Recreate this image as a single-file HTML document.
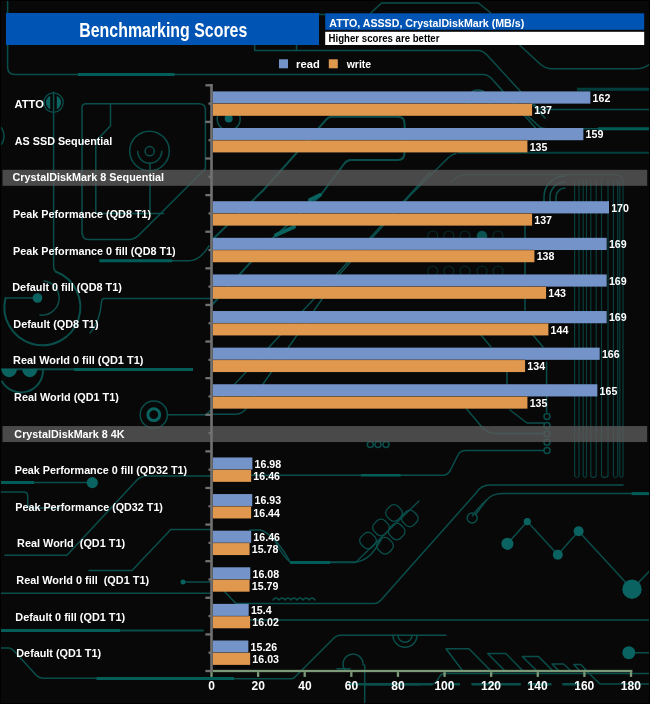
<!DOCTYPE html>
<html><head><meta charset="utf-8"><style>
html,body{margin:0;padding:0;background:#080808;width:650px;height:704px;overflow:hidden}
svg{display:block;will-change:transform}
text{font-family:"Liberation Sans",sans-serif;font-weight:bold;white-space:pre}
</style></head><body>
<svg width="650" height="704" viewBox="0 0 650 704">
<rect x="0" y="0" width="650" height="704" fill="#080808"/>
<g fill="none" stroke-linecap="round" stroke-linejoin="round">
<!-- thin lines -->
<g stroke="#0a4e4b" stroke-width="1.5">
<path d="M370.8 13 L381.5 3 H478.5 L490.8 13"/>
<path d="M319 14.5 H325"/>
<path d="M0 126.2 A14 14 0 0 1 0 145.8"/>
<circle cx="478" cy="101" r="11"/>
<path d="M7.6 0 V67 Q7.6 74.5 15 74.5 H78"/>
<path d="M174.5 74.5 H483 Q488 74.5 492 79 L540 133"/>
<path d="M254.6 45 V50.5 H478 Q483 50.5 487 55 L545 118"/>
<path d="M296.5 45 V50.5"/>
<path d="M519.6 45 L539 63 Q545 68.8 552 68.8 H636 Q643 68.8 650 64"/>
<path d="M534.6 104.6 Q538 109.5 545 109.5 H650"/>
<path d="M527.7 116 L538 125.4 Q541 128.7 547 128.7 H598"/>
<!-- ATTO ring vertical -->
<path d="M53.6 112 V266 Q53.6 270 56 271.8"/>
<!-- big circle arc -->
<path d="M56 271.8 A38 38 0 1 1 5.5 298" stroke-width="2"/>
<path d="M37.5 298 H5.5"/>
<!-- inner arc around dot -->
<path d="M44 281 A17 17 0 1 1 40 315"/>
<!-- curve right of big circle -->
<path d="M211 298.4 H104 Q101.7 298.4 101.5 302 Q100 322 90 333"/>
<!-- inner rounded rect region -->
<path d="M82 234 V108 Q82 103.8 86 103.8 H199 Q205.4 103.8 205.4 110 V168.7 L140 234 Q135 239.4 130 239.4 H88 Q82.6 239.4 82.6 234"/>
<path d="M110.5 103.8 V125.8 L95.8 141.3 V213.6 H163.7"/>
<path d="M150 163 V213.6"/>
<circle cx="149.5" cy="151" r="19.8"/>
<circle cx="149.7" cy="151.2" r="4.6"/>
<path d="M137.7 151.2 A12 12 0 0 0 161.7 151.2"/>
<path d="M172 260.8 H188.8 Q200 260.8 209 245.8"/>
<!-- left bottom -->
<path d="M0 369.2 H74" stroke-width="2"/>
<path d="M2 381.5 A22 22 0 0 0 43 370.5" stroke-width="2"/>
<path d="M0 492 H24 Q27.7 492 27.7 496 V505 Q27.7 508 31 508 H60"/>
<path d="M34 482.6 H92"/>
<path d="M5 555.2 H67 L137 480 Q141.5 476 146 476 H211"/>
<path d="M89 570.5 H132 L170.8 529.6 H211"/>
<path d="M0 593.3 H211"/>
<path d="M183 582 H211"/>
<path d="M120 630.4 H203" stroke-width="2"/>
<path d="M1 648.1 H9 Q12 648.5 15 652 L36 675 Q39 678.3 44 678.3 H97"/>
<!-- ring near axis left -->
<circle cx="153.8" cy="414.7" r="13.6"/>
<path d="M167.4 414.7 H211"/>
<!-- frame bottom of title -->
<!-- middle diagonals -->
<path d="M211 241 L263.5 190 L325 121 Q328 116.8 332 116.8 H398 Q404.6 116.8 404.6 124 V152 Q404.6 160 398 160 H350 Q346 160.8 344 164 L320 196 L274 237 L240 274 L211 306" stroke-width="2"/>
<path d="M430 172.6 L313.4 299.5 L207 414"/>
<path d="M456 153.5 Q452 154 448 158 L409.7 196 L338 276 L245.5 409.4 Q241 414.2 235 414.2 H213"/>
<circle cx="228.7" cy="119" r="11.5"/>
<!-- right side: vertical bus -->
<path d="M525 225 V310"/>
<path stroke="#083e3c" stroke-width="1.2" d="M574.6 182 V476 Q576.8 479 579 476 V180"/>
<path stroke="#083e3c" stroke-width="1.2" d="M583.2 180 V476 Q585 479 586.5 476 V180"/>
<path stroke="#083e3c" stroke-width="1.2" d="M590.8 180 V476 Q593.5 479 596.2 476 V180"/>
<path stroke="#083e3c" stroke-width="1.2" d="M601.5 180 V476 Q604.8 479 608 476 V180"/>
<path stroke="#083e3c" stroke-width="1.2" d="M613.4 180 V476 Q615.5 479 617.7 476 V180"/>
<path stroke="#083e3c" stroke-width="1.2" d="M619.8 180 V476 Q621.4 479 623 476 V182 Q623 174.6 615 174.6 H466 Q456 174.6 452 182"/>
<path d="M556 203 V197 A9 9 0 0 1 565 188"/>
<path d="M550 205 V197 A15 15 0 0 1 565 182"/>
<path d="M544 207 V197 A21 21 0 0 1 565 176"/>
<path d="M546.6 362 V412"/>
<circle cx="547" cy="416.5" r="3"/>
<circle cx="547" cy="425.5" r="3"/>
<circle cx="547" cy="433.7" r="3"/>
<circle cx="547" cy="442.3" r="3"/>
<circle cx="547" cy="450.5" r="3"/>
<path d="M466.5 408.8 L481 426 Q487 433.4 495 433.4 H544"/>
<path d="M507 372 V384"/>
<path d="M481 335 L491 347"/>
<path d="M533 335 L543 347"/>
<path d="M510 410 L527 423 H544"/>
<path d="M211 475.2 H443 Q447 475.2 450 471 L458 455 Q460 450.5 466 450.5 H544"/>
<!-- zigzag lines -->
<path d="M507.4 543.8 L527.3 521.6 L557.8 554.8 L578.6 531.3 L632 589.2 L650 570.6"/>
<circle cx="472.2" cy="518" r="5"/>
<path d="M476 514 L486.6 500"/>
<!-- bottom right -->
<path d="M213 620 H650"/>
<path d="M628.8 652.7 H650"/>
<path d="M446 648.8 H469 L490 670 M446 648.8 L462 670"/>
<path d="M487.7 653.5 H505.8 L522 670 M487.7 653.5 L504 670"/>
<path d="M522.3 656.5 H538.5 L552 670 M522.3 656.5 L536 670"/>
<path d="M552 664 H563.5 L570 670 M552 664 L558 670"/>
<path d="M573.8 664.6 H580.8 L586 670 M573.8 664.6 L579 670"/>
<path d="M584.6 669 L600 684 H650"/>
<path d="M349 684.3 H431.5 Q436 684 438 679 L440 676 Q441.5 673.5 445 673.5 H650" />
<path d="M349 684.3 H431.5" stroke-width="2.5"/>
<path d="M446 684.3 H460 M471.5 684.3 H520.8 M527.7 684.3 H551.5 M562.3 684.3 H580" stroke-width="2.5" stroke-linecap="butt"/>
<!-- middle bottom -->
<path d="M274.6 540 Q282 556 290.8 562.6 H355.4 Q368 560 374.8 549.7 L381 540"/>
<path d="M223 590 L236 603.4 H374.5 Q378 603.4 381 600 L476 493 Q481 485 490 485 H623"/>
<path d="M472.5 515.8 Q480 505 490 497 Q495 493.6 503 493.6 H631.7"/>
<path d="M273 600 q3 -4 6 0 q3 -4 6 0 q3 -4 6 0 q3 -4 6 0 q3 -4 6 0 q3 -4 6 0 q3 -4 6 0"/>
<path d="M213 678.7 H291.5 Q294 678.7 296 676 L332 640 Q336 635.3 341 635.3 H446"/>
<path d="M345 670 A10 10 0 1 1 363 665" />
<path d="M337 668.8 H350"/>
<path d="M393 635.3 A12 12 0 0 0 417 635.3"/>
<path d="M398 635.3 A7 7 0 0 0 412 635.3"/>
<path d="M364.7 665 V704"/>
<path d="M365 684.7 H420"/>
<path d="M250 530 H260.5 Q275 535 289 560"/>
<circle cx="370.3" cy="444.5" r="3"/>
<circle cx="378" cy="444.5" r="3"/>
<circle cx="386" cy="444.5" r="3"/>
</g>
<g stroke="#0a4e4b" stroke-width="1.3">
<path d="M330 562 H356 L419 501"/>
<rect x="360.5" y="533.1" width="15" height="15" rx="5.5" transform="rotate(45 368.0 540.6)"/>
<rect x="373.5" y="520.0" width="15" height="15" rx="5.5" transform="rotate(45 381.0 527.5)"/>
<rect x="386.5" y="505.5" width="15" height="15" rx="5.5" transform="rotate(45 394.0 513.0)"/>
<rect x="377.5" y="538.3" width="15" height="15" rx="5.5" transform="rotate(45 385.0 545.8)"/>
<rect x="389.2" y="524.0" width="15" height="15" rx="5.5" transform="rotate(45 396.7 531.5)"/>
<rect x="402.3" y="510.9" width="15" height="15" rx="5.5" transform="rotate(45 409.8 518.4)"/>
</g>
<g stroke="#072b2a" stroke-width="1.1">
<circle cx="432.7" cy="236.0" r="5"/>
<circle cx="448.8" cy="236.0" r="5"/>
<circle cx="465.0" cy="236.0" r="5"/>
<circle cx="482.0" cy="236.0" r="5"/>
<circle cx="498.0" cy="236.0" r="5"/>
<circle cx="432.7" cy="271.2" r="5"/>
<circle cx="448.8" cy="271.2" r="5"/>
<circle cx="465.0" cy="271.2" r="5"/>
<circle cx="482.0" cy="271.2" r="5"/>
<circle cx="498.0" cy="271.2" r="5"/>
</g>
<circle cx="482" cy="236" r="5" fill="#0a5552" stroke="none"/>
<g stroke="#0a6361" stroke-width="4" stroke-linecap="round">
<path d="M310 200 L320 195"/>
<path d="M276 235 L294 227"/>
</g>
<circle cx="228.7" cy="118.5" r="4" fill="#0a6361"/>
<!-- thick bright lines -->
<g stroke="#005d58" stroke-width="3" stroke-linecap="butt">
<path d="M78 74.5 H174.5"/>
<path d="M99.3 260.8 H172"/>
<path d="M74 369.6 H193"/>
<path d="M0 482.6 H34"/>
<path d="M0 630.4 H120"/>
<path d="M96.5 678.4 H234"/>
<path d="M598 128.7 H650"/>
<path d="M631.7 493.6 H650"/>
<path d="M290 562.6 H330"/>
<path d="M361 475.2 H400.6" stroke-width="2.6"/>
</g>
<g stroke="#003f3c" stroke-width="3" stroke-linecap="butt">
<path d="M577 89.2 H650"/>
<path d="M458 152.8 H650" stroke-width="2"/>
</g>
<!-- filled dots -->
<g fill="#0a6361" stroke="none">
<circle cx="53.5" cy="102.6" r="7.6"/>
<circle cx="37.5" cy="298" r="4.8"/>
<circle cx="92.3" cy="482.6" r="5.6"/>
<circle cx="507.4" cy="543.8" r="6.1"/>
<circle cx="527.3" cy="521.6" r="3.6"/>
<circle cx="557.8" cy="554.8" r="5"/>
<circle cx="578.6" cy="531.3" r="5"/>
<circle cx="632" cy="589.2" r="9.7"/>
<circle cx="628.8" cy="652.7" r="6.5"/>
<circle cx="183" cy="582" r="2.5"/>
<path d="M1.4 369 A7.8 8.2 0 0 0 17 369 Z M22.2 369 A7.6 8.2 0 0 0 37.4 369 Z"/>
</g>
<g fill="#080808" stroke="none">
<rect x="50.2" y="92" width="6.6" height="21"/>
</g>
<g fill="none" stroke="#0a4e4b" stroke-width="1.5">
<path d="M53.6 92 V113"/>
<circle cx="53.5" cy="102.6" r="9.7" stroke-width="1.3"/>
</g>
<g fill="none" stroke="#0a6361" stroke-width="3">
<circle cx="153.8" cy="414.7" r="5.9"/>
</g>
</g>

<rect x="6" y="13" width="313" height="32" fill="#0055b4"/>
<text transform="translate(79.26 37.40) scale(0.8125 1)" font-size="19.60" fill="#fff">Benchmarking Scores</text>
<rect x="325.2" y="13.3" width="319" height="16.5" fill="#0055b4"/>
<text transform="translate(329.23 26.90) scale(0.9187 1)" font-size="11.60" fill="#fff">ATTO, ASSSD, CrystalDiskMark (MB/s)</text>
<rect x="325.2" y="31.8" width="319" height="13.2" fill="#ffffff"/>
<text transform="translate(328.57 41.70) scale(0.8536 1)" font-size="11.30" fill="#000">Higher scores are better</text>
<rect x="279" y="59.3" width="9" height="9" fill="#7494c9"/>
<text transform="translate(296.07 67.70) scale(1.0193 1)" font-size="11.00" fill="#fff">read</text>
<rect x="328.8" y="59.3" width="9" height="9" fill="#e0984e"/>
<text transform="translate(346.65 67.70) scale(0.9544 1)" font-size="11.00" fill="#fff">write</text>
<text transform="translate(14.52 107.90) scale(1.0156 1)" font-size="11.00" fill="#fff">ATTO</text>
<rect x="212.80" y="91.40" width="377.56" height="12.20" fill="#7494c9"/>
<rect x="212.80" y="103.60" width="319.29" height="12.20" fill="#e0984e"/>
<rect x="212.80" y="103.25" width="319.29" height="0.7" fill="#000" fill-opacity="0.35"/>
<text transform="translate(592.57 101.77) scale(0.9500 1)" font-size="11.20" fill="#fff">162</text>
<text transform="translate(534.30 113.97) scale(0.9500 1)" font-size="11.20" fill="#fff">137</text>
<text transform="translate(14.83 144.50) scale(0.9801 1)" font-size="11.00" fill="#fff">AS SSD Sequential</text>
<rect x="212.80" y="128.01" width="370.57" height="12.20" fill="#7494c9"/>
<rect x="212.80" y="140.21" width="314.63" height="12.20" fill="#e0984e"/>
<rect x="212.80" y="139.86" width="314.63" height="0.7" fill="#000" fill-opacity="0.35"/>
<text transform="translate(585.57 138.38) scale(0.9500 1)" font-size="11.20" fill="#fff">159</text>
<text transform="translate(529.64 150.58) scale(0.9500 1)" font-size="11.20" fill="#fff">135</text>
<rect x="2.5" y="169.81" width="644.7" height="16" fill="#5a5a5a" fill-opacity="0.8"/>
<text transform="translate(12.47 180.90) scale(0.9847 1)" font-size="11.00" fill="#fff">CrystalDiskMark 8 Sequential</text>
<text transform="translate(13.10 218.30) scale(0.9830 1)" font-size="11.00" fill="#fff">Peak Peformance (QD8 T1)</text>
<rect x="212.80" y="201.22" width="396.20" height="12.20" fill="#7494c9"/>
<rect x="212.80" y="213.42" width="319.29" height="12.20" fill="#e0984e"/>
<rect x="212.80" y="213.07" width="319.29" height="0.7" fill="#000" fill-opacity="0.35"/>
<text transform="translate(611.21 211.59) scale(0.9500 1)" font-size="11.20" fill="#fff">170</text>
<text transform="translate(534.30 223.79) scale(0.9500 1)" font-size="11.20" fill="#fff">137</text>
<text transform="translate(13.10 254.50) scale(0.9830 1)" font-size="11.00" fill="#fff">Peak Peformance 0 fill (QD8 T1)</text>
<rect x="212.80" y="237.82" width="393.87" height="12.20" fill="#7494c9"/>
<rect x="212.80" y="250.03" width="321.62" height="12.20" fill="#e0984e"/>
<rect x="212.80" y="249.68" width="321.62" height="0.7" fill="#000" fill-opacity="0.35"/>
<text transform="translate(608.88 248.20) scale(0.9500 1)" font-size="11.20" fill="#fff">169</text>
<text transform="translate(536.63 260.40) scale(0.9500 1)" font-size="11.20" fill="#fff">138</text>
<text transform="translate(12.30 290.60) scale(0.9859 1)" font-size="11.00" fill="#fff">Default 0 fill (QD8 T1)</text>
<rect x="212.80" y="274.43" width="393.87" height="12.20" fill="#7494c9"/>
<rect x="212.80" y="286.63" width="333.28" height="12.20" fill="#e0984e"/>
<rect x="212.80" y="286.28" width="333.28" height="0.7" fill="#000" fill-opacity="0.35"/>
<text transform="translate(608.88 284.80) scale(0.9500 1)" font-size="11.20" fill="#fff">169</text>
<text transform="translate(548.28 297.00) scale(0.9500 1)" font-size="11.20" fill="#fff">143</text>
<text transform="translate(13.29 327.60) scale(0.9892 1)" font-size="11.00" fill="#fff">Default (QD8 T1)</text>
<rect x="212.80" y="311.04" width="393.87" height="12.20" fill="#7494c9"/>
<rect x="212.80" y="323.24" width="335.61" height="12.20" fill="#e0984e"/>
<rect x="212.80" y="322.89" width="335.61" height="0.7" fill="#000" fill-opacity="0.35"/>
<text transform="translate(608.88 321.41) scale(0.9500 1)" font-size="11.20" fill="#fff">169</text>
<text transform="translate(550.61 333.61) scale(0.9500 1)" font-size="11.20" fill="#fff">144</text>
<text transform="translate(13.09 364.30) scale(0.9941 1)" font-size="11.00" fill="#fff">Real World 0 fill (QD1 T1)</text>
<rect x="212.80" y="347.64" width="386.88" height="12.20" fill="#7494c9"/>
<rect x="212.80" y="359.85" width="312.30" height="12.20" fill="#e0984e"/>
<rect x="212.80" y="359.50" width="312.30" height="0.7" fill="#000" fill-opacity="0.35"/>
<text transform="translate(601.89 358.01) scale(0.9500 1)" font-size="11.20" fill="#fff">166</text>
<text transform="translate(527.31 370.22) scale(0.9500 1)" font-size="11.20" fill="#fff">134</text>
<text transform="translate(14.09 401.00) scale(0.9887 1)" font-size="11.00" fill="#fff">Real World (QD1 T1)</text>
<rect x="212.80" y="384.25" width="384.55" height="12.20" fill="#7494c9"/>
<rect x="212.80" y="396.45" width="314.63" height="12.20" fill="#e0984e"/>
<rect x="212.80" y="396.10" width="314.63" height="0.7" fill="#000" fill-opacity="0.35"/>
<text transform="translate(599.56 394.62) scale(0.9500 1)" font-size="11.20" fill="#fff">165</text>
<text transform="translate(529.64 406.82) scale(0.9500 1)" font-size="11.20" fill="#fff">135</text>
<rect x="2.5" y="426.06" width="644.7" height="16" fill="#5a5a5a" fill-opacity="0.8"/>
<text transform="translate(14.37 437.50) scale(0.9810 1)" font-size="11.00" fill="#fff">CrystalDiskMark 8 4K</text>
<text transform="translate(14.70 474.40) scale(0.9806 1)" font-size="11.00" fill="#fff">Peak Performance 0 fill (QD32 T1)</text>
<rect x="212.80" y="457.46" width="39.57" height="12.20" fill="#7494c9"/>
<rect x="212.80" y="469.66" width="38.36" height="12.20" fill="#e0984e"/>
<rect x="212.80" y="469.31" width="38.36" height="0.7" fill="#000" fill-opacity="0.35"/>
<text transform="translate(254.58 467.83) scale(0.9500 1)" font-size="11.20" fill="#fff">16.98</text>
<text transform="translate(253.37 480.03) scale(0.9500 1)" font-size="11.20" fill="#fff">16.46</text>
<text transform="translate(15.30 511.20) scale(0.9782 1)" font-size="11.00" fill="#fff">Peak Performance (QD32 T1)</text>
<rect x="212.80" y="494.07" width="39.46" height="12.20" fill="#7494c9"/>
<rect x="212.80" y="506.27" width="38.32" height="12.20" fill="#e0984e"/>
<rect x="212.80" y="505.92" width="38.32" height="0.7" fill="#000" fill-opacity="0.35"/>
<text transform="translate(254.47 504.44) scale(0.9500 1)" font-size="11.20" fill="#fff">16.93</text>
<text transform="translate(253.32 516.64) scale(0.9500 1)" font-size="11.20" fill="#fff">16.44</text>
<text transform="translate(17.09 547.20) scale(0.9897 1)" font-size="11.00" fill="#fff">Real World  (QD1 T1)</text>
<rect x="212.80" y="530.67" width="38.36" height="12.20" fill="#7494c9"/>
<rect x="212.80" y="542.88" width="36.78" height="12.20" fill="#e0984e"/>
<rect x="212.80" y="542.52" width="36.78" height="0.7" fill="#000" fill-opacity="0.35"/>
<text transform="translate(253.37 541.04) scale(0.9500 1)" font-size="11.20" fill="#fff">16.46</text>
<text transform="translate(251.79 553.25) scale(0.9500 1)" font-size="11.20" fill="#fff">15.78</text>
<text transform="translate(16.29 584.00) scale(0.9895 1)" font-size="11.00" fill="#fff">Real World 0 fill  (QD1 T1)</text>
<rect x="212.80" y="567.28" width="37.48" height="12.20" fill="#7494c9"/>
<rect x="212.80" y="579.48" width="36.80" height="12.20" fill="#e0984e"/>
<rect x="212.80" y="579.13" width="36.80" height="0.7" fill="#000" fill-opacity="0.35"/>
<text transform="translate(252.48 577.65) scale(0.9500 1)" font-size="11.20" fill="#fff">16.08</text>
<text transform="translate(251.81 589.85) scale(0.9500 1)" font-size="11.20" fill="#fff">15.79</text>
<text transform="translate(15.29 621.00) scale(0.9878 1)" font-size="11.00" fill="#fff">Default 0 fill (QD1 T1)</text>
<rect x="212.80" y="603.88" width="35.89" height="12.20" fill="#7494c9"/>
<rect x="212.80" y="616.09" width="37.34" height="12.20" fill="#e0984e"/>
<rect x="212.80" y="615.74" width="35.89" height="0.7" fill="#000" fill-opacity="0.35"/>
<text transform="translate(250.90 614.26) scale(0.9500 1)" font-size="11.20" fill="#fff">15.4</text>
<text transform="translate(252.34 626.46) scale(0.9500 1)" font-size="11.20" fill="#fff">16.02</text>
<text transform="translate(16.30 657.30) scale(0.9845 1)" font-size="11.00" fill="#fff">Default (QD1 T1)</text>
<rect x="212.80" y="640.49" width="35.56" height="12.20" fill="#7494c9"/>
<rect x="212.80" y="652.69" width="37.36" height="12.20" fill="#e0984e"/>
<rect x="212.80" y="652.34" width="35.56" height="0.7" fill="#000" fill-opacity="0.35"/>
<text transform="translate(250.57 650.86) scale(0.9500 1)" font-size="11.20" fill="#fff">15.26</text>
<text transform="translate(252.37 663.06) scale(0.9500 1)" font-size="11.20" fill="#fff">16.03</text>
<rect x="210.2" y="84.0" width="2.6" height="588.20" fill="#717171"/>
<rect x="205.40" y="84.15" width="5.60" height="2.3" fill="#717171"/>
<rect x="208.50" y="102.45" width="2.50" height="2.3" fill="#717171"/>
<rect x="205.40" y="120.76" width="5.60" height="2.3" fill="#717171"/>
<rect x="208.50" y="139.06" width="2.50" height="2.3" fill="#717171"/>
<rect x="205.40" y="157.36" width="5.60" height="2.3" fill="#717171"/>
<rect x="208.50" y="175.66" width="2.50" height="2.3" fill="#717171"/>
<rect x="205.40" y="193.97" width="5.60" height="2.3" fill="#717171"/>
<rect x="208.50" y="212.27" width="2.50" height="2.3" fill="#717171"/>
<rect x="205.40" y="230.57" width="5.60" height="2.3" fill="#717171"/>
<rect x="208.50" y="248.88" width="2.50" height="2.3" fill="#717171"/>
<rect x="205.40" y="267.18" width="5.60" height="2.3" fill="#717171"/>
<rect x="208.50" y="285.48" width="2.50" height="2.3" fill="#717171"/>
<rect x="205.40" y="303.79" width="5.60" height="2.3" fill="#717171"/>
<rect x="208.50" y="322.09" width="2.50" height="2.3" fill="#717171"/>
<rect x="205.40" y="340.39" width="5.60" height="2.3" fill="#717171"/>
<rect x="208.50" y="358.70" width="2.50" height="2.3" fill="#717171"/>
<rect x="205.40" y="377.00" width="5.60" height="2.3" fill="#717171"/>
<rect x="208.50" y="395.30" width="2.50" height="2.3" fill="#717171"/>
<rect x="205.40" y="413.60" width="5.60" height="2.3" fill="#717171"/>
<rect x="208.50" y="431.91" width="2.50" height="2.3" fill="#717171"/>
<rect x="205.40" y="450.21" width="5.60" height="2.3" fill="#717171"/>
<rect x="208.50" y="468.51" width="2.50" height="2.3" fill="#717171"/>
<rect x="205.40" y="486.82" width="5.60" height="2.3" fill="#717171"/>
<rect x="208.50" y="505.12" width="2.50" height="2.3" fill="#717171"/>
<rect x="205.40" y="523.42" width="5.60" height="2.3" fill="#717171"/>
<rect x="208.50" y="541.73" width="2.50" height="2.3" fill="#717171"/>
<rect x="205.40" y="560.03" width="5.60" height="2.3" fill="#717171"/>
<rect x="208.50" y="578.33" width="2.50" height="2.3" fill="#717171"/>
<rect x="205.40" y="596.63" width="5.60" height="2.3" fill="#717171"/>
<rect x="208.50" y="614.94" width="2.50" height="2.3" fill="#717171"/>
<rect x="205.40" y="633.24" width="5.60" height="2.3" fill="#717171"/>
<rect x="208.50" y="651.54" width="2.50" height="2.3" fill="#717171"/>
<rect x="205.40" y="669.85" width="5.60" height="2.3" fill="#717171"/>
<rect x="212.8" y="669.85" width="419.6" height="2.3" fill="#7c9a78"/>
<rect x="210.35" y="672.15" width="2.3" height="4.75" fill="#7c9a78"/>
<text transform="translate(208.17 689.80) scale(1.0000 1)" font-size="12.00" fill="#fff">0</text>
<rect x="256.96" y="672.15" width="2.3" height="4.75" fill="#7c9a78"/>
<text transform="translate(251.48 689.80) scale(1.0000 1)" font-size="12.00" fill="#fff">20</text>
<rect x="303.57" y="672.15" width="2.3" height="4.75" fill="#7c9a78"/>
<text transform="translate(298.21 689.80) scale(1.0000 1)" font-size="12.00" fill="#fff">40</text>
<rect x="350.19" y="672.15" width="2.3" height="4.75" fill="#7c9a78"/>
<text transform="translate(344.71 689.80) scale(1.0000 1)" font-size="12.00" fill="#fff">60</text>
<rect x="396.80" y="672.15" width="2.3" height="4.75" fill="#7c9a78"/>
<text transform="translate(391.35 689.80) scale(1.0000 1)" font-size="12.00" fill="#fff">80</text>
<rect x="443.41" y="672.15" width="2.3" height="4.75" fill="#7c9a78"/>
<text transform="translate(434.39 689.80) scale(1.0000 1)" font-size="12.00" fill="#fff">100</text>
<rect x="490.02" y="672.15" width="2.3" height="4.75" fill="#7c9a78"/>
<text transform="translate(481.00 689.80) scale(1.0000 1)" font-size="12.00" fill="#fff">120</text>
<rect x="536.63" y="672.15" width="2.3" height="4.75" fill="#7c9a78"/>
<text transform="translate(527.61 689.80) scale(1.0000 1)" font-size="12.00" fill="#fff">140</text>
<rect x="583.25" y="672.15" width="2.3" height="4.75" fill="#7c9a78"/>
<text transform="translate(574.23 689.80) scale(1.0000 1)" font-size="12.00" fill="#fff">160</text>
<rect x="629.86" y="672.15" width="2.3" height="4.75" fill="#7c9a78"/>
<text transform="translate(620.84 689.80) scale(1.0000 1)" font-size="12.00" fill="#fff">180</text>
<rect x="0.5" y="0.5" width="649" height="703" fill="none" stroke="#000" stroke-width="1"/>
</svg>
</body></html>
